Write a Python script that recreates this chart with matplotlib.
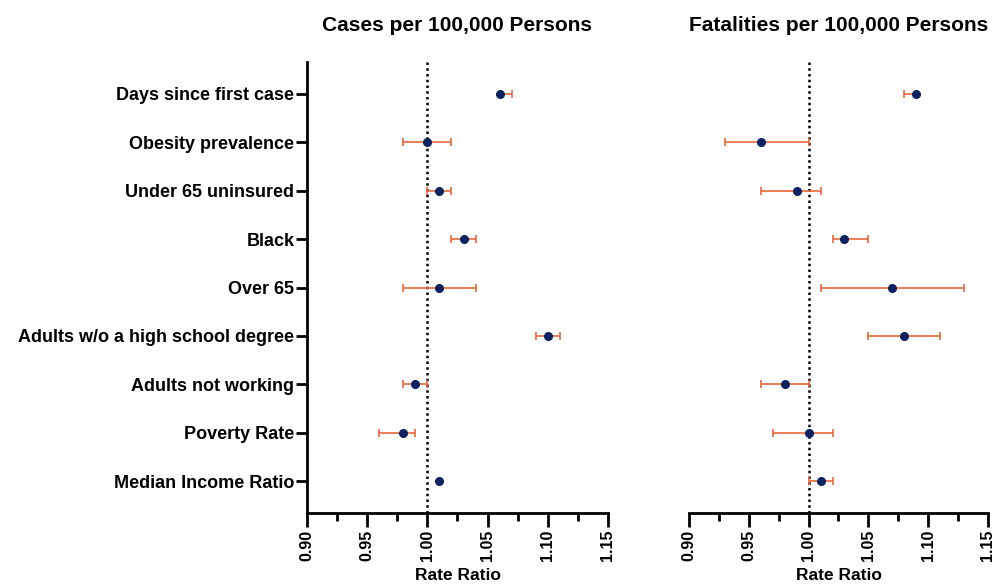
import matplotlib
matplotlib.use("Agg")
import matplotlib.pyplot as plt
from matplotlib.ticker import MultipleLocator

plt.rcParams['font.family'] = ['Liberation Sans', 'DejaVu Sans']
plt.rcParams['font.weight'] = 'bold'

labels = ["Days since first case", "Obesity prevalence", "Under 65 uninsured", "Black",
          "Over 65", "Adults w/o a high school degree", "Adults not working",
          "Poverty Rate", "Median Income Ratio"]

# cases per 100,000: estimate, lower CI, upper CI
cases_est = [1.06, 1.00, 1.01, 1.03, 1.01, 1.10, 0.99, 0.98, 1.01]
cases_lo = [1.06, 0.98, 1.00, 1.02, 0.98, 1.09, 0.98, 0.96, 1.01]
cases_hi = [1.07, 1.02, 1.02, 1.04, 1.04, 1.11, 1.00, 0.99, 1.01]

# fatalities per 100,000
fat_est = [1.09, 0.96, 0.99, 1.03, 1.07, 1.08, 0.98, 1.00, 1.01]
fat_lo = [1.08, 0.93, 0.96, 1.02, 1.01, 1.05, 0.96, 0.97, 1.00]
fat_hi = [1.09, 1.00, 1.01, 1.05, 1.13, 1.11, 1.00, 1.02, 1.02]

xticks = [0.90, 0.95, 1.00, 1.05, 1.10, 1.15]

W, H = 995, 587
fig = plt.figure(figsize=(W / 100, H / 100), dpi=100)
ax1 = fig.add_axes([307 / W, (H - 513) / H, 301 / W, 451 / H])
ax2 = fig.add_axes([689 / W, (H - 513) / H, 299 / W, 451 / H])

ypos = list(range(len(labels)))

def draw(ax, est, lo, hi, title, show_y):
    xerr = [[e - l for e, l in zip(est, lo)], [h - e for e, h in zip(est, hi)]]
    ax.axvline(1.0, color='black', linestyle=(0, (1, 1.3)), linewidth=1.8, zorder=1)
    ax.errorbar(est, ypos, xerr=xerr, fmt='none', ecolor='#E8683A', elinewidth=1.2,
                capsize=3, capthick=1.2, zorder=2)
    ax.plot(est, ypos, 'o', color='#0D2260', markersize=5.5, zorder=3)
    ax.set_xlim(0.90, 1.15)
    ax.set_ylim(8.66, -0.66)
    ax.set_xticks(xticks)
    ax.set_xticklabels([f"{t:.2f}" for t in xticks], rotation=90, fontsize=11.5, fontweight='bold')
    ax.xaxis.set_minor_locator(MultipleLocator(0.025))
    ax.tick_params(axis='x', which='major', length=10, width=2, pad=2)
    ax.tick_params(axis='x', which='minor', length=6, width=2)
    ax.set_xlabel("Rate Ratio", fontsize=12.5, fontweight='bold', labelpad=5)
    ax.set_title(title, fontsize=15, fontweight='bold', pad=22)
    for s in ['top', 'right']:
        ax.spines[s].set_visible(False)
    ax.spines['bottom'].set_linewidth(2)
    if show_y:
        ax.spines['left'].set_linewidth(2)
        ax.set_yticks(ypos)
        ax.set_yticklabels(labels, fontsize=13, fontweight='bold')
        ax.tick_params(axis='y', length=8, width=2, pad=1)
    else:
        ax.spines['left'].set_visible(False)
        ax.set_yticks([])

draw(ax1, cases_est, cases_lo, cases_hi, "Cases per 100,000 Persons", True)
draw(ax2, fat_est, fat_lo, fat_hi, "Fatalities per 100,000 Persons", False)

fig.savefig("out.png", dpi=100)
